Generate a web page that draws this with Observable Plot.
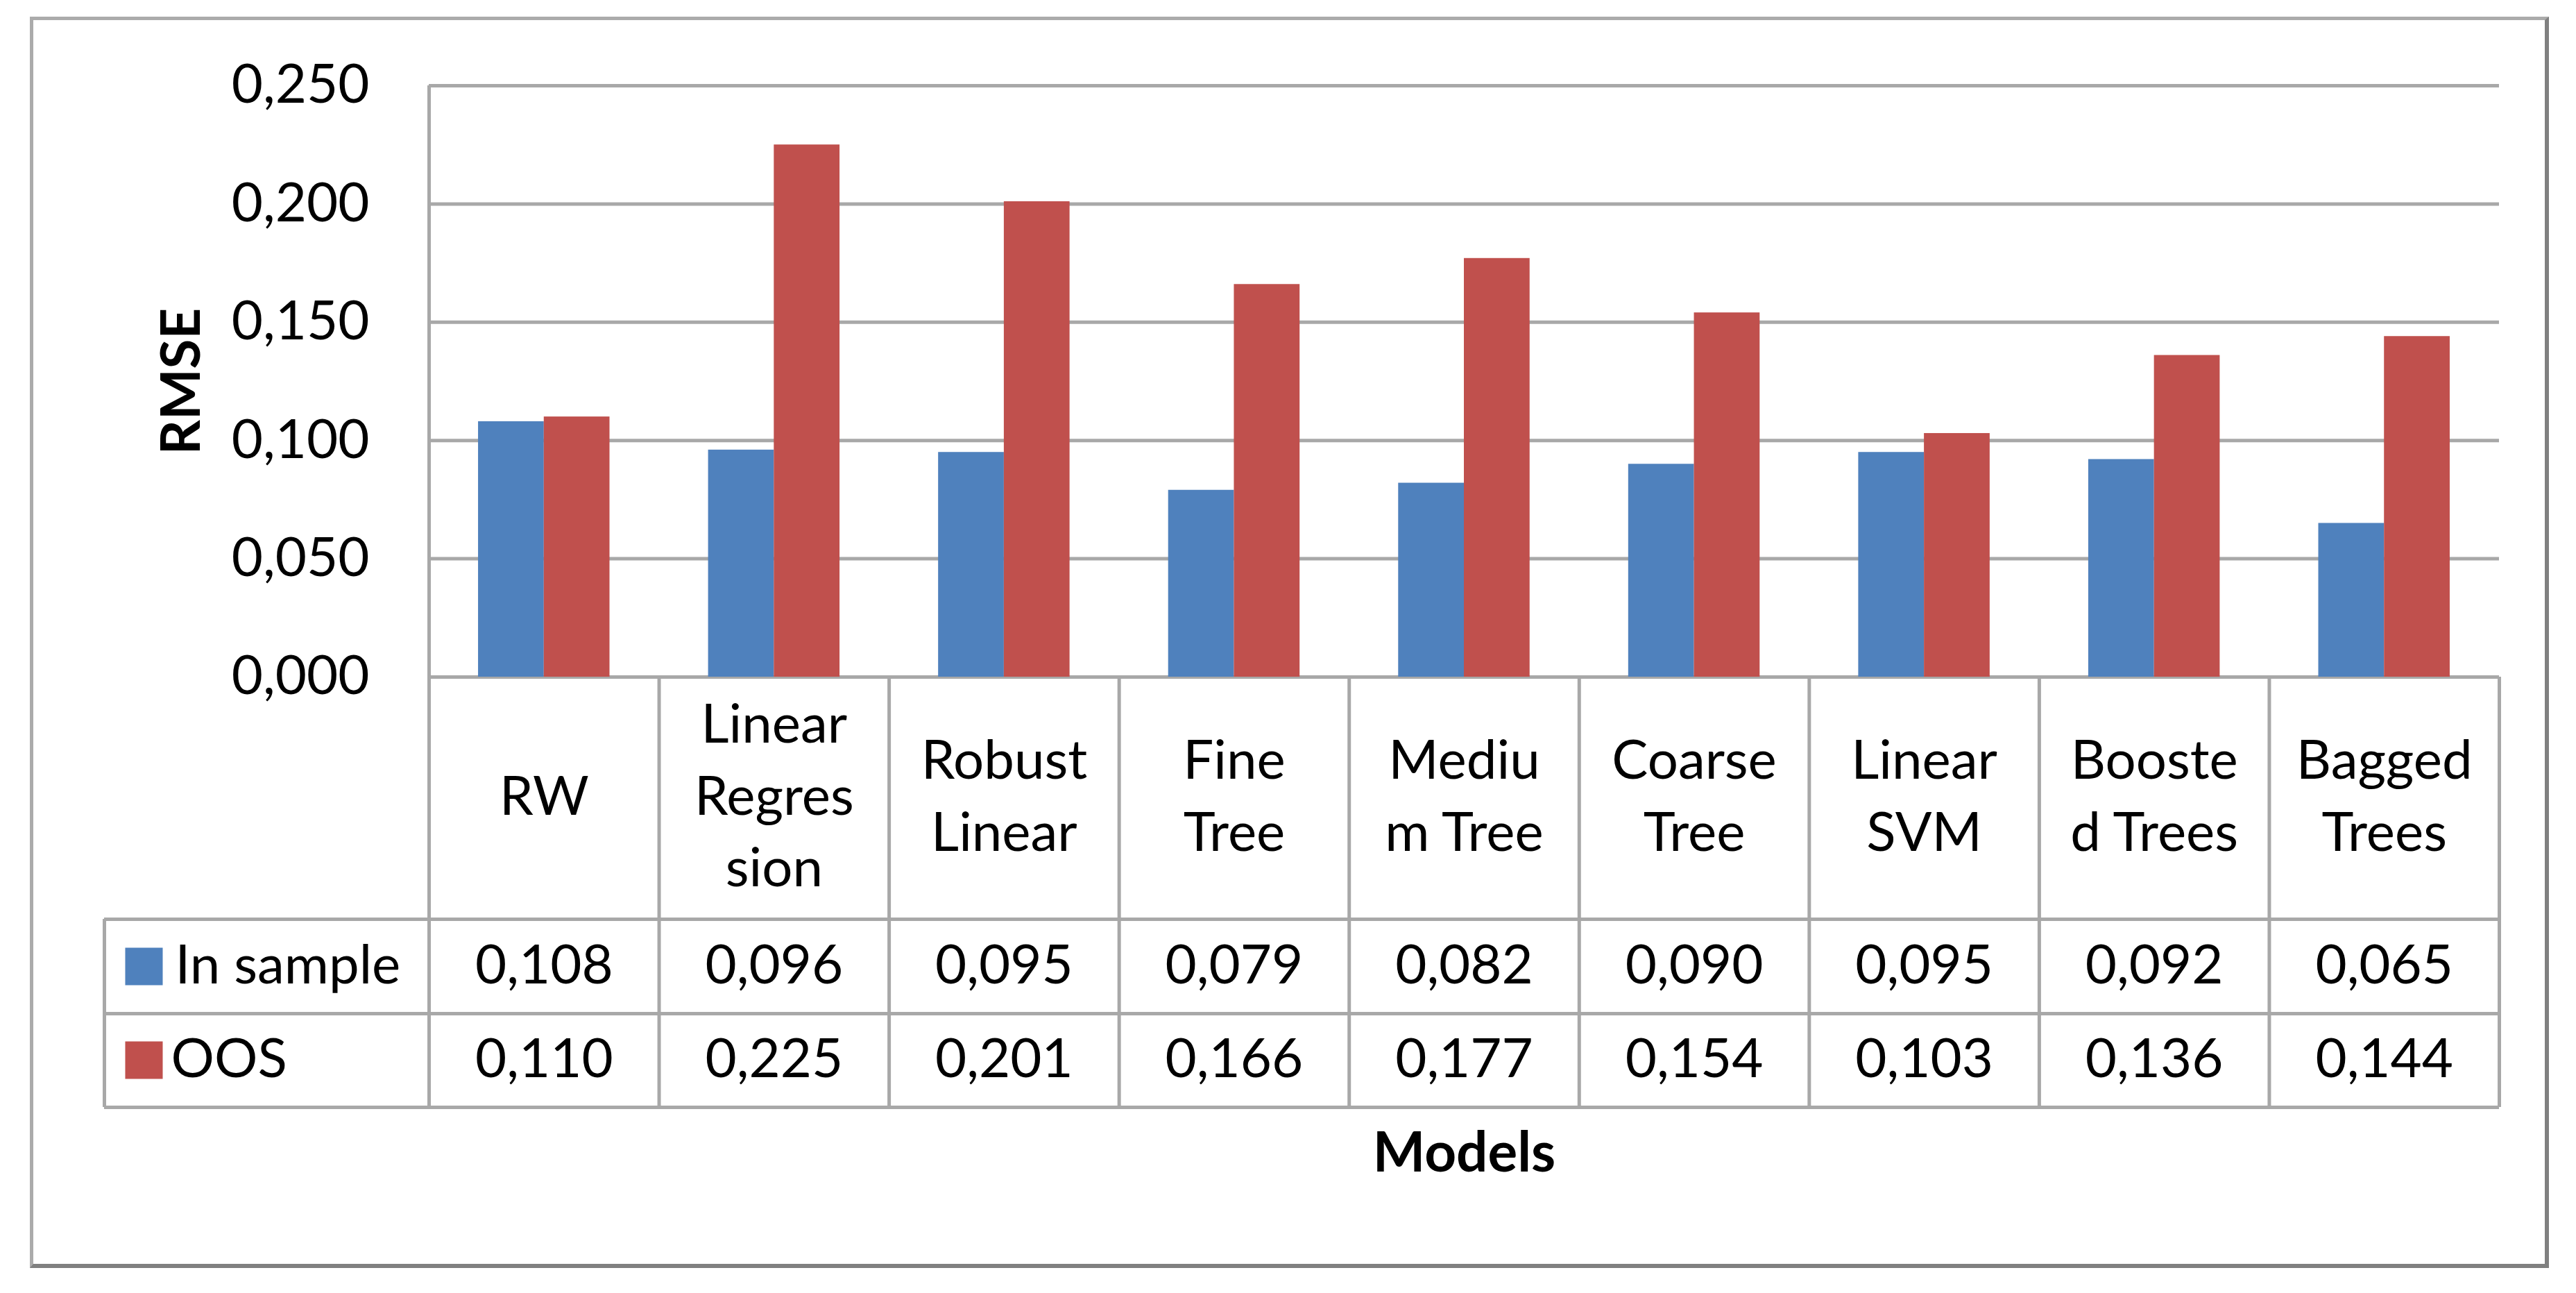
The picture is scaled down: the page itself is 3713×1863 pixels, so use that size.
<!DOCTYPE html>
<html>
<head>
<meta charset="utf-8">
<script src="https://cdn.jsdelivr.net/npm/d3@7"></script>
<script src="https://cdn.jsdelivr.net/npm/@observablehq/plot@0.6"></script>
<style>
  html, body { margin: 0; padding: 0; background: #fff; overflow: hidden; }
  #wrap { position: relative; width: 3713px; height: 1863px; }
  #border { position: absolute; left: 43px; top: 24px; width: 3620px; height: 1792px;
    border-top: 5px solid #ababab; border-left: 5px solid #ababab;
    border-right: 6px solid #808080; border-bottom: 6px solid #808080; }
  #chart { position: absolute; left: 0; top: 0; }
</style>
</head>
<body>
<div id="wrap"><div id="border"></div><div id="chart"></div></div>
<script>
// ---- data ----
const categories = ["RW", "Linear Regression", "Robust Linear", "Fine Tree", "Medium Tree", "Coarse Tree", "Linear SVM", "Boosted Trees", "Bagged Trees"];
const categoryLabels = ["RW", "Linear\nRegres\nsion", "Robust\nLinear", "Fine\nTree", "Mediu\nm Tree", "Coarse\nTree", "Linear\nSVM", "Booste\nd Trees", "Bagged\nTrees"];
const inSample = [0.108, 0.096, 0.095, 0.079, 0.082, 0.090, 0.095, 0.092, 0.065];
const oos = [0.110, 0.225, 0.201, 0.166, 0.177, 0.154, 0.103, 0.136, 0.144];
const seriesNames = ["In sample", "OOS"];
const seriesColors = ["#4F81BD", "#C0504D"];
const yTicks = [0, 0.05, 0.10, 0.15, 0.20, 0.25];
const yTitle = "RMSE";
const xTitle = "Models";

// ---- layout ----
const W = 3713, H = 1863;
const mL = 618, mR = 111, mT = 123, mB = 888;
const plotH = H - mT - mB;
const n = categories.length;
const gap = 1.5;                       // Excel gap width 150%
const bw = 1 / (2 + gap);              // bar width in column units
const pad = (gap / 2) * bw;
const rowCat = 165, rowIn = 417, rowOos = 552;   // row centres below zero line
const line1 = 349, line2 = 485, lineEnd = 620;  // table row lines below zero line
const legendW = 468;
const gridColor = "#a8a8a8";
const fmt = v => d3.format(".3f")(v).replace(".", ",");

const rows = [];
categories.forEach((c, i) => {
  rows.push({model: c, i, series: seriesNames[0], s: 0, value: inSample[i]});
  rows.push({model: c, i, series: seriesNames[1], s: 1, value: oos[i]});
});
const rowsIn = rows.filter(d => d.s === 0);
const rowsOos = rows.filter(d => d.s === 1);

const plot = Plot.plot({
  width: W,
  height: H,
  marginLeft: mL,
  marginRight: mR,
  marginTop: mT,
  marginBottom: mB,
  style: {fontFamily: "Lato, 'Open Sans', sans-serif", fontSize: "78px", color: "#000", background: "transparent"},
  x: {domain: [0, n], axis: null},
  y: {domain: [0, 0.25], axis: null},
  color: {domain: seriesNames, range: seriesColors},
  marks: [
    // gridlines
    Plot.ruleY(yTicks, {stroke: gridColor, strokeWidth: 5}),
    // bars
    Plot.rectY(rows, {
      x1: d => d.i + pad + d.s * bw,
      x2: d => d.i + pad + (d.s + 1) * bw,
      y1: 0,
      y2: "value",
      fill: "series"
    }),
    // y tick labels
    Plot.text(yTicks, {y: d => d, frameAnchor: "left", dx: -86, textAnchor: "end", lineAnchor: "middle", text: d => fmt(d), fill: "#000"}),
    // y title
    Plot.text([yTitle], {frameAnchor: "left", rotate: -90, dx: -355, textAnchor: "middle", lineAnchor: "middle", text: d => d, fontWeight: "bold", fill: "#000"}),
    // left axis line (plot + table)
    Plot.ruleX([0], {stroke: gridColor, strokeWidth: 5, insetBottom: -lineEnd}),
    // table column lines
    Plot.ruleX(d3.range(n + 1), {stroke: gridColor, strokeWidth: 5, insetTop: plotH, insetBottom: -lineEnd}),
    // legend column left border
    Plot.ruleX([0], {stroke: gridColor, strokeWidth: 5, dx: -legendW, insetTop: plotH + line1, insetBottom: -lineEnd}),
    // table row lines
    Plot.ruleY([0], {stroke: gridColor, strokeWidth: 5, dy: line1, insetLeft: -legendW}),
    Plot.ruleY([0], {stroke: gridColor, strokeWidth: 5, dy: line2, insetLeft: -legendW}),
    Plot.ruleY([0], {stroke: gridColor, strokeWidth: 5, dy: lineEnd, insetLeft: -legendW}),
    // category labels
    Plot.text(categoryLabels, {x: (d, i) => i + 0.5, y: 0, dy: rowCat, text: d => d, lineHeight: 1.33, fill: "#000"}),
    // value rows
    Plot.text(rowsIn, {x: d => d.i + 0.5, y: 0, dy: rowIn, text: d => fmt(d.value), fill: "#000"}),
    Plot.text(rowsOos, {x: d => d.i + 0.5, y: 0, dy: rowOos, text: d => fmt(d.value), fill: "#000"}),
    // legend keys
    Plot.dot([seriesNames[0]], {x: 0, y: 0, dx: -411, dy: rowIn, symbol: "square", r: 30.5, fill: d => d, stroke: null}),
    Plot.dot([seriesNames[1]], {x: 0, y: 0, dx: -411, dy: rowOos, symbol: "square", r: 30.5, fill: d => d, stroke: null}),
    Plot.text([seriesNames[0]], {x: 0, y: 0, dx: -366, dy: rowIn, textAnchor: "start", text: d => d, fill: "#000"}),
    Plot.text([seriesNames[1]], {x: 0, y: 0, dx: -372, dy: rowOos, textAnchor: "start", text: d => d, fill: "#000"}),
    // x title
    Plot.text([xTitle], {frameAnchor: "bottom", dy: 687, lineAnchor: "middle", text: d => d, fontWeight: "bold", fontSize: 80, fill: "#000"})
  ]
});
document.getElementById("chart").appendChild(plot);
</script>
</body>
</html>
